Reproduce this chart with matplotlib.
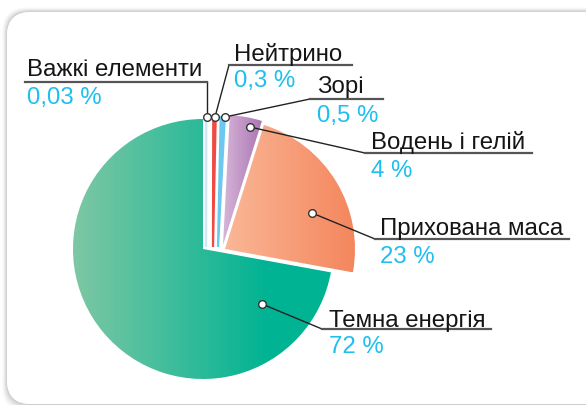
import numpy as np
import matplotlib.pyplot as plt
from matplotlib.colors import LinearSegmentedColormap
from matplotlib.patches import FancyBboxPatch

plt.rcParams['font.family'] = ['Liberation Sans', 'DejaVu Sans']

# Склад Всесвіту, %
names = ['Темна енергія', 'Прихована маса', 'Водень і гелій', 'Зорі', 'Нейтрино', 'Важкі елементи']
shares = [72, 23, 4, 0.5, 0.3, 0.03]
share_labels = ['72 %', '23 %', '4 %', '0,5 %', '0,3 %', '0,03 %']

# gradient colours (left -> right) for big slices, solid colours for thin ones
grad_colors = [('#7ec7a4', '#00b393'), ('#fab796', '#f4865d'), ('#d6b5d7', '#ab76b3')]
thin_colors = ['#6cc8ee', '#ee4b45', '#cdeaf6']
# shift of each slice's vertex (px), pie centre in px
shifts = [(0, 0), (22, 0), (20, 4), (15, 2), (10, 2), (3, 2)]
cx, cy, R = 203, 249, 130
H = 405


def Y(py):
    return H - py


fig = plt.figure(figsize=(5.86, 4.05), dpi=100)
ax = fig.add_axes([0, 0, 1, 1])
ax.set_axis_off()

# card with soft shadow
for k, a in zip(range(8, 0, -1), np.linspace(0.02, 0.09, 8)):
    ax.add_patch(FancyBboxPatch((7 - k * 0.6, Y(404) - k), 640 + k, 392 + k * 1.6,
                                boxstyle='round,pad=0,rounding_size=24', fc='#808080',
                                ec='none', alpha=a, zorder=0))
ax.add_patch(FancyBboxPatch((7, Y(404)), 640, 392, boxstyle='round,pad=0,rounding_size=24',
                            fc='white', ec='none', zorder=1))
# top-right corner
ax.add_patch(FancyBboxPatch((7, Y(404)), 578, 392, boxstyle='round,pad=0,rounding_size=24',
                            fc='white', ec='none', zorder=1))

wedges, _ = ax.pie(shares, startangle=90, counterclock=True, center=(cx, Y(cy)), radius=R,
                   wedgeprops=dict(linewidth=0))

for i, w in enumerate(wedges):
    dx, dy = shifts[i]
    w.set_center((cx + dx, Y(cy) + dy))
    w.set_zorder(3)
    if i < 3:
        w.set_facecolor('none')
        cmap = LinearSegmentedColormap.from_list('g%d' % i, grad_colors[i])
        x0, y0, x1, y1 = w.get_path().get_extents(w.get_patch_transform()).extents
        if i == 0:
            stops = np.clip((np.linspace(x0, x1, 256) - x0) / 195, 0, 1)
        else:
            stops = np.linspace(0, 1, 256)
        im = ax.imshow(stops[None, :], extent=[x0, x1, y0, y1], cmap=cmap, vmin=0, vmax=1,
                       aspect='auto', zorder=2, interpolation='bilinear')
        im.set_clip_path(w)
    else:
        c = thin_colors[i - 3]
        w.set_facecolor(c)
        w.set_edgecolor(c)
        w.set_linewidth(1.6)

# leader lines: circle on slice -> elbow -> end of underline
leaders = [
    [(262, 304), (322, 329), (491, 329)],
    [(312, 213), (375, 239), (569, 239)],
    [(250, 127), (365, 153), (532, 153)],
    [(225, 117), (310, 99), (383, 99)],
    [(215, 117), (229, 65), (352, 65)],
    [(207, 117), (207, 82), (25, 82)],
]
text_pos = [(329, 327), (380, 235), (371, 149), (317, 93), (234, 61), (27, 76)]
pct_pos = [(329, 353), (380, 263), (371, 177), (317, 122), (234, 87), (27, 104)]

for i in range(len(names)):
    p = leaders[i]
    ax.plot([p[0][0], p[1][0]], [Y(p[0][1]), Y(p[1][1])], color='#222222', lw=1, zorder=4)
    ax.plot([p[1][0], p[2][0]], [Y(p[1][1]), Y(p[2][1])], color='#555555', lw=1.6, zorder=4)
    ax.plot(p[0][0], Y(p[0][1]), 'o', ms=5.5, mfc='white', mec='#333333', mew=1, zorder=5)
    ax.text(text_pos[i][0], Y(text_pos[i][1]), names[i], fontsize=17.3, color='#151515',
            va='baseline', ha='left', zorder=5)
    ax.text(pct_pos[i][0], Y(pct_pos[i][1]), share_labels[i], fontsize=17.3, color='#1ebff0',
            va='baseline', ha='left', zorder=5)

ax.set_xlim(0, 586)
ax.set_ylim(0, 405)
fig.savefig('out.png', dpi=100, facecolor='white')
